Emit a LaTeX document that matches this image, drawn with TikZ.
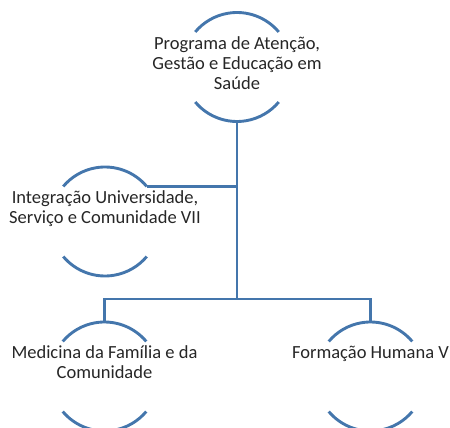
\documentclass[tikz,border=0pt]{standalone}
\usepackage{fontspec}
\setmainfont{Carlito}
\usepackage{tikz}
\usetikzlibrary{positioning}

\definecolor{ringblue}{RGB}{68,118,172}

\begin{document}
\begin{tikzpicture}[
    x=1pt, y=1pt,
    ring/.style={circle, minimum size=109pt, inner sep=0pt, outer sep=0pt},
    ringline/.style={draw=ringblue, line width=2.9pt},
    conn/.style={draw=ringblue, line width=2.9pt},
    txt/.style={anchor=north, align=center, inner sep=0pt, text=black!85, font={\fontsize{18.5}{20.3}\selectfont}}
]
\useasboundingbox (0,0) rectangle (450,428);

% Circles
\node[ring] (prog) at (237,361) {};
\node[ring] (integ) at (105,206.5) {};
\node[ring] (med) at (104.5,51.5) {};
\node[ring] (form) at (370.5,51.5) {};

\foreach \n in {prog,integ,med,form} {
    \draw[ringline] (\n.40) arc[start angle=40, end angle=140, radius=54.5pt];
    \draw[ringline] (\n.220) arc[start angle=220, end angle=320, radius=54.5pt];
}

% Texts
\node[txt] (progtxt) at ([yshift=31pt]prog.center) {Programa de Atenção,\\Gestão e Educação em\\Saúde};
\node[txt] (integtxt) at ([yshift=31pt]integ.center) {Integração Universidade,\\Serviço e Comunidade VII};
\node[txt] (medtxt) at ([yshift=31pt]med.center) {Medicina da Família e da\\Comunidade};
\node[txt] (formtxt) at ([yshift=31pt]form.center) {Formação Humana V};

% Connectors
\coordinate (bus) at (prog.south |- 0,129);
\draw[conn] (prog.south) -- (bus);
\draw[conn] (integ.40) -- (integ.40 -| prog.south);
\draw[conn] (med.north) |- (bus) -| (form.north);
\end{tikzpicture}
\end{document}
